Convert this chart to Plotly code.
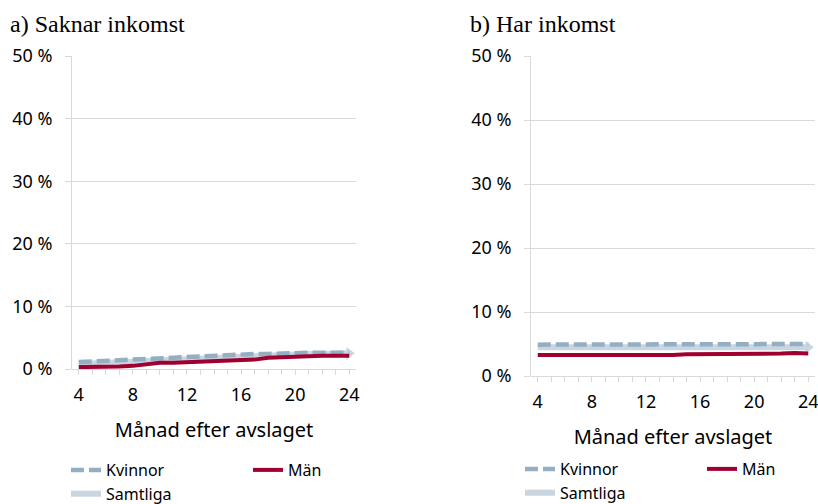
import plotly.graph_objects as go

# Månad efter avslaget
months = list(range(4, 25))

# a) Saknar inkomst (andel, %)
a_kvinnor = [1.1, 1.2, 1.4, 1.5, 1.5, 1.7, 1.8, 1.9, 2.0, 2.1, 2.1, 2.2, 2.3, 2.4, 2.4, 2.5, 2.5, 2.6, 2.6, 2.6, 2.6]
a_man = [0.3, 0.3, 0.3, 0.4, 0.5, 0.8, 1.0, 1.0, 1.1, 1.2, 1.2, 1.3, 1.5, 1.5, 1.8, 1.9, 2.0, 2.0, 2.1, 2.1, 2.1]
a_samtliga = [0.8, 0.9, 1.0, 1.1, 1.1, 1.4, 1.5, 1.6, 1.6, 1.7, 1.8, 1.9, 2.0, 2.1, 2.2, 2.3, 2.3, 2.4, 2.4, 2.5, 2.5]

# b) Har inkomst (andel, %)
b_kvinnor = [4.9, 4.9, 4.9, 5.0, 5.0, 5.0, 5.0, 5.0, 5.0, 5.0, 5.0, 5.0, 5.0, 5.0, 5.0, 5.0, 5.0, 5.0, 5.0, 5.0, 5.0]
b_man = [3.3, 3.3, 3.2, 3.3, 3.3, 3.3, 3.3, 3.2, 3.2, 3.3, 3.3, 3.4, 3.4, 3.4, 3.5, 3.5, 3.5, 3.5, 3.5, 3.6, 3.5]
b_samtliga = [4.5, 4.5, 4.5, 4.5, 4.5, 4.5, 4.5, 4.5, 4.5, 4.5, 4.5, 4.5, 4.5, 4.5, 4.5, 4.5, 4.5, 4.5, 4.5, 4.5, 4.5]

panel_titles = ['a) Saknar inkomst', 'b) Har inkomst']

C_KVINNOR = '#94AEC2'
C_MAN = '#A0002F'
C_SAMTLIGA = '#C9D5DF'
GRID = '#D9D9D9'
FONT = 'Noto Sans'

fig = go.Figure()


def add_panel(xa, ya, legend, kvinnor, man, samtliga):
    # Samtliga first so it sits beneath the other two
    fig.add_trace(go.Scatter(
        x=months, y=samtliga, mode='lines', name='Samtliga',
        line=dict(color=C_SAMTLIGA, width=6),
        xaxis=xa, yaxis=ya, legend=legend, legendgroup='a', legendrank=3
    ))
    # arrow head at the end of Samtliga
    fig.add_trace(go.Scatter(
        x=months[-1:], y=samtliga[-1:], mode='markers',
        marker=dict(symbol='triangle-right', size=11, color=C_SAMTLIGA),
        xaxis=xa, yaxis=ya, showlegend=False, hoverinfo='skip'
    ))
    fig.add_trace(go.Scatter(
        x=months, y=kvinnor, mode='lines', name='Kvinnor',
        line=dict(color=C_KVINNOR, width=4.5, dash='13px,5px'),
        xaxis=xa, yaxis=ya, legend=legend, legendgroup='a', legendrank=1
    ))
    fig.add_trace(go.Scatter(
        x=months, y=man, mode='lines', name='Män',
        line=dict(color=C_MAN, width=4),
        xaxis=xa, yaxis=ya, legend=legend, legendgroup='b', legendrank=2
    ))


add_panel('x', 'y', 'legend', a_kvinnor, a_man, a_samtliga)
add_panel('x2', 'y2', 'legend2', b_kvinnor, b_man, b_samtliga)

W, H = 818, 504


def xaxis(domain, anchor):
    return dict(
        domain=domain, anchor=anchor, range=[3.5, 24.5],
        tickmode='linear', tick0=4, dtick=4,
        ticks='outside', ticklen=5, tickcolor=GRID,
        minor=dict(dtick=1, tick0=4, ticks='outside', ticklen=5, tickcolor=GRID),
        showgrid=False, zeroline=False, showline=False,
        ticklabelstandoff=4, ticklabeloverflow='allow', automargin=False,
        tickfont=dict(family=FONT, size=18, color='#000'),
        title=dict(text='Månad efter avslaget', standoff=18,
                   font=dict(family=FONT, size=20, color='#000')),
    )


def yaxis(domain, anchor):
    return dict(
        domain=domain, anchor=anchor, range=[0, 50],
        tickmode='linear', tick0=0, dtick=10, ticksuffix=' %',
        ticks='outside', ticklen=6, tickcolor=GRID,
        showgrid=True, gridcolor=GRID, gridwidth=1,
        zeroline=True, zerolinecolor=GRID, zerolinewidth=1,
        showline=True, linecolor=GRID, linewidth=1,
        ticklabelstandoff=9, ticklabeloverflow='allow', automargin=False,
        tickfont=dict(family=FONT, size=18, color='#000'),
    )


legend_style = dict(
    orientation='h', traceorder='grouped', xanchor='left', yanchor='top',
    tracegroupgap=0, entrywidth=137,
    font=dict(family=FONT, size=16, color='#000'), bgcolor='rgba(0,0,0,0)'
)

fig.update_layout(
    width=W, height=H,
    margin=dict(l=0, r=0, t=0, b=0, autoexpand=False),
    plot_bgcolor='white', paper_bgcolor='white',
    xaxis=xaxis([72 / W, 356 / W], 'y'),
    yaxis=yaxis([1 - 369 / H, 1 - 56 / H], 'x'),
    xaxis2=xaxis([531 / W, 815 / W], 'y2'),
    yaxis2=yaxis([1 - 376 / H, 1 - 56 / H], 'x2'),
    legend=dict(legend_style, x=66 / W, y=1 - 453 / H),
    legend2=dict(legend_style, x=520 / W, y=1 - 452 / H),
    annotations=[
        dict(text=panel_titles[0], x=8 / W, y=1 - 24 / H, xref='paper', yref='paper',
             xanchor='left', yanchor='middle', showarrow=False,
             font=dict(family='Liberation Serif', size=24, color='#000')),
        dict(text=panel_titles[1], x=468 / W, y=1 - 24 / H, xref='paper', yref='paper',
             xanchor='left', yanchor='middle', showarrow=False,
             font=dict(family='Liberation Serif', size=24, color='#000')),
    ],
)

# drop the page's default body margin so the figure fills the window exactly
fig.write_html("out.html", config={'displayModeBar': False},
               post_script="document.body.style.margin='0';document.body.style.overflow='hidden';")
